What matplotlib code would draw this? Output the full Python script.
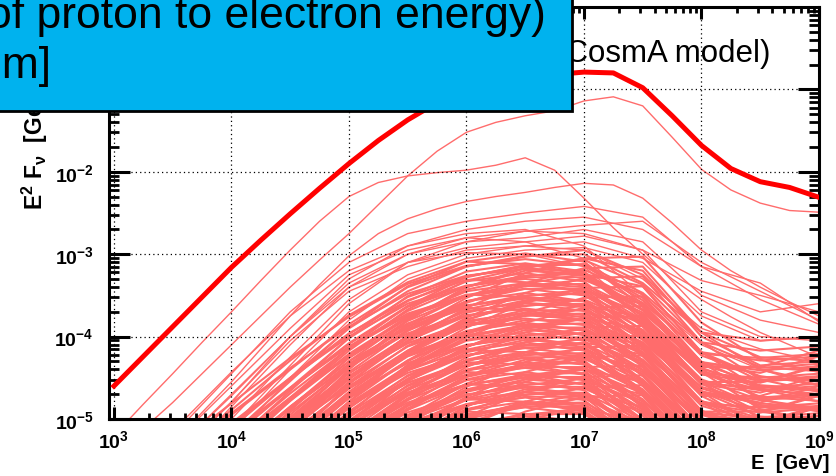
import numpy as np
import matplotlib
matplotlib.use('Agg')
import matplotlib.pyplot as plt
import matplotlib.ticker as mticker
from matplotlib.patches import Rectangle

plt.rcParams['font.family'] = 'Liberation Sans'
plt.rcParams['mathtext.fontset'] = 'custom'
plt.rcParams['mathtext.rm'] = 'Liberation Sans'
plt.rcParams['mathtext.bf'] = 'Liberation Sans:bold'
plt.rcParams['mathtext.it'] = 'Liberation Sans:italic'

# === Data (log10 values) ===
# quarter-decade energy grid: total spectrum and the three brightest sources
fine_logE = [3.0, 3.25, 3.5, 3.75, 4.0, 4.25, 4.5, 4.75, 5.0, 5.25, 5.5, 5.75,
             6.0, 6.25, 6.5, 6.75, 7.0, 7.25, 7.5, 7.75, 8.0, 8.25, 8.5, 8.75, 9.0]
total_logF = [-4.60, -4.24, -3.88, -3.52, -3.16, -2.83, -2.51, -2.20, -1.90, -1.62,
              -1.37, -1.16, -1.00, -0.90, -0.85, -0.82, -0.79, -0.80, -0.98, -1.32,
              -1.68, -1.96, -2.12, -2.19, -2.31]
top_sources = [
    [-5.45, -5.12, -4.80, -4.45, -4.10, -3.75, -3.40, -3.07, -2.75, -2.40, -2.05, -1.75,
     -1.52, -1.40, -1.32, -1.26, -1.14, -1.09, -1.20, -1.58, -1.97, -2.22, -2.38, -2.47, -2.49],
    [-5.20, -4.82, -4.45, -4.07, -3.70, -3.32, -2.95, -2.60, -2.30, -2.13, -2.05, -2.01,
     -1.98, -1.92, -1.83, -1.98, -2.32, -2.68, -3.00, -3.30, -3.55, -3.76, -3.95, -4.10, -4.25],
    [-6.00, -5.65, -5.30, -4.92, -4.55, -4.15, -3.75, -3.37, -3.02, -2.75, -2.57, -2.45,
     -2.36, -2.30, -2.25, -2.19, -2.14, -2.16, -2.32, -2.62, -2.95, -3.20, -3.40, -3.58, -3.75],
]

# half-decade energy grid: all other sources
src_logE = [3.0, 3.5, 4.0, 4.5, 5.0, 5.5, 6.0, 6.5, 7.0, 7.5, 8.0, 8.5, 9.0]

bright_sources = [
    [-6.50, -5.80, -5.10, -4.35, -3.60, -3.10, -2.85, -2.72, -2.65, -2.60, -3.10, -3.45, -3.80],
    [-5.90, -5.20, -4.45, -3.70, -3.10, -2.75, -2.60, -2.50, -2.42, -2.55, -3.15, -3.55, -3.85],
    [-6.20, -5.50, -4.80, -4.00, -3.30, -2.90, -2.70, -2.60, -2.55, -2.70, -3.15, -3.35, -3.82],
    [-6.30, -5.60, -4.85, -4.10, -3.40, -3.00, -2.80, -2.72, -2.75, -2.95, -3.32, -3.50, -3.70],
    [-5.85, -5.15, -4.43, -3.75, -3.20, -2.90, -2.75, -2.70, -2.90, -3.50, -4.10, -4.40, -4.60],
    [-6.10, -5.40, -4.70, -4.00, -3.35, -3.00, -2.85, -2.80, -2.70, -2.85, -3.50, -3.80, -3.95],
    [-6.00, -5.30, -4.60, -3.90, -3.25, -2.95, -2.80, -2.85, -3.05, -3.60, -4.30, -4.60, -4.70],
    [-6.40, -5.70, -5.00, -4.25, -3.55, -3.10, -2.92, -2.85, -2.78, -2.95, -3.70, -4.00, -4.05],
    [-6.20, -5.50, -4.79, -4.05, -3.45, -3.15, -2.95, -2.90, -2.95, -3.30, -3.90, -4.15, -4.30],
    [-6.60, -5.90, -5.15, -4.40, -3.70, -3.25, -3.00, -2.90, -2.85, -3.05, -3.45, -3.70, -3.60],
    [-6.10, -5.40, -4.72, -4.00, -3.40, -3.10, -2.98, -3.00, -3.15, -3.75, -4.35, -4.55, -4.50],
    [-6.80, -6.00, -5.25, -4.50, -3.80, -3.30, -3.05, -2.95, -2.92, -3.10, -3.75, -4.05, -4.00],
]

bulk_sources = [
    [-6.65, -6.05, -5.45, -4.85, -4.30, -3.80, -3.40, -3.17, -3.05, -3.20, -4.00, -4.35, -4.30],
    [-6.09, -5.49, -4.89, -4.29, -3.74, -3.34, -3.09, -3.12, -3.24, -3.79, -4.39, -4.59, -4.64],
    [-6.43, -5.83, -5.23, -4.63, -4.08, -3.63, -3.28, -3.13, -3.13, -3.53, -4.23, -4.48, -4.58],
    [-6.57, -5.97, -5.37, -4.77, -4.17, -3.67, -3.32, -3.17, -3.22, -3.67, -4.37, -4.37, -4.17],
    [-7.20, -6.50, -5.80, -5.10, -4.40, -3.80, -3.40, -3.20, -3.25, -3.75, -4.45, -4.65, -4.70],
    [-6.84, -6.24, -5.64, -5.04, -4.49, -3.99, -3.59, -3.36, -3.24, -3.39, -4.19, -4.54, -4.49],
    [-6.58, -5.98, -5.38, -4.78, -4.23, -3.78, -3.43, -3.28, -3.28, -3.68, -4.38, -4.63, -4.73],
    [-6.31, -5.71, -5.11, -4.51, -3.96, -3.56, -3.31, -3.34, -3.46, -4.01, -4.61, -4.81, -4.86],
    [-6.75, -6.15, -5.55, -4.95, -4.35, -3.85, -3.50, -3.35, -3.40, -3.85, -4.55, -4.55, -4.35],
    [-7.38, -6.68, -5.98, -5.28, -4.58, -3.98, -3.58, -3.38, -3.43, -3.93, -4.63, -4.83, -4.88],
    [-6.72, -6.12, -5.52, -4.92, -4.37, -3.92, -3.57, -3.42, -3.42, -3.82, -4.52, -4.77, -4.87],
    [-7.05, -6.45, -5.85, -5.25, -4.70, -4.20, -3.80, -3.57, -3.45, -3.60, -4.40, -4.75, -4.70],
    [-6.49, -5.89, -5.29, -4.69, -4.14, -3.74, -3.49, -3.52, -3.64, -4.19, -4.79, -4.99, -5.04],
    [-6.92, -6.32, -5.72, -5.12, -4.52, -4.02, -3.67, -3.52, -3.57, -4.02, -4.72, -4.72, -4.52],
    [-6.86, -6.26, -5.66, -5.06, -4.51, -4.06, -3.71, -3.56, -3.56, -3.96, -4.66, -4.91, -5.01],
    [-7.59, -6.89, -6.19, -5.49, -4.79, -4.19, -3.79, -3.59, -3.64, -4.14, -4.84, -5.04, -5.09],
    [-7.22, -6.62, -6.02, -5.42, -4.87, -4.37, -3.97, -3.74, -3.62, -3.77, -4.57, -4.92, -4.87],
    [-6.65, -6.05, -5.45, -4.85, -4.30, -3.90, -3.65, -3.68, -3.80, -4.35, -4.95, -5.15, -5.20],
    [-6.98, -6.38, -5.78, -5.18, -4.63, -4.18, -3.83, -3.68, -3.68, -4.08, -4.78, -5.03, -5.13],
    [-7.11, -6.51, -5.91, -5.31, -4.71, -4.21, -3.86, -3.71, -3.76, -4.21, -4.91, -4.91, -4.71],
    [-7.74, -7.04, -6.34, -5.64, -4.94, -4.34, -3.94, -3.74, -3.79, -4.29, -4.99, -5.19, -5.24],
    [-7.37, -6.77, -6.17, -5.57, -5.02, -4.52, -4.12, -3.89, -3.77, -3.92, -4.72, -5.07, -5.02],
    [-7.10, -6.50, -5.90, -5.30, -4.75, -4.30, -3.95, -3.80, -3.80, -4.20, -4.90, -5.15, -5.25],
    [-6.83, -6.23, -5.63, -5.03, -4.48, -4.08, -3.83, -3.86, -3.98, -4.53, -5.13, -5.33, -5.38],
    [-7.26, -6.66, -6.06, -5.46, -4.86, -4.36, -4.01, -3.86, -3.91, -4.36, -5.06, -5.06, -4.86],
    [-7.19, -6.59, -5.99, -5.39, -4.84, -4.39, -4.04, -3.89, -3.89, -4.29, -4.99, -5.24, -5.34],
    [-7.92, -7.22, -6.52, -5.82, -5.12, -4.52, -4.12, -3.92, -3.97, -4.47, -5.17, -5.37, -5.42],
    [-7.55, -6.95, -6.35, -5.75, -5.20, -4.70, -4.30, -4.07, -3.95, -4.10, -4.90, -5.25, -5.20],
    [-6.98, -6.38, -5.78, -5.18, -4.63, -4.23, -3.98, -4.01, -4.13, -4.68, -5.28, -5.48, -5.53],
    [-7.31, -6.71, -6.11, -5.51, -4.96, -4.51, -4.16, -4.01, -4.01, -4.41, -5.11, -5.36, -5.46],
    [-7.44, -6.84, -6.24, -5.64, -5.04, -4.54, -4.19, -4.04, -4.09, -4.54, -5.24, -5.24, -5.04],
    [-7.67, -7.07, -6.47, -5.87, -5.32, -4.82, -4.42, -4.19, -4.07, -4.22, -5.02, -5.37, -5.32],
    [-8.10, -7.40, -6.70, -6.00, -5.30, -4.70, -4.30, -4.10, -4.15, -4.65, -5.35, -5.55, -5.60],
    [-7.43, -6.83, -6.23, -5.63, -5.08, -4.63, -4.28, -4.13, -4.13, -4.53, -5.23, -5.48, -5.58],
    [-7.16, -6.56, -5.96, -5.36, -4.81, -4.41, -4.16, -4.19, -4.31, -4.86, -5.46, -5.66, -5.71],
    [-7.59, -6.99, -6.39, -5.79, -5.19, -4.69, -4.34, -4.19, -4.24, -4.69, -5.39, -5.39, -5.19],
    [-7.82, -7.22, -6.62, -6.02, -5.47, -4.97, -4.57, -4.34, -4.22, -4.37, -5.17, -5.52, -5.47],
    [-7.55, -6.95, -6.35, -5.75, -5.20, -4.75, -4.40, -4.25, -4.25, -4.65, -5.35, -5.60, -5.70],
    [-8.28, -7.58, -6.88, -6.18, -5.48, -4.88, -4.48, -4.28, -4.33, -4.83, -5.53, -5.73, -5.78],
    [-7.31, -6.71, -6.11, -5.51, -4.96, -4.56, -4.31, -4.34, -4.46, -5.01, -5.61, -5.81, -5.86],
    [-7.74, -7.14, -6.54, -5.94, -5.34, -4.84, -4.49, -4.34, -4.39, -4.84, -5.54, -5.54, -5.34],
    [-7.67, -7.07, -6.47, -5.87, -5.32, -4.87, -4.52, -4.37, -4.37, -4.77, -5.47, -5.72, -5.82],
    [-8.00, -7.40, -6.80, -6.20, -5.65, -5.15, -4.75, -4.52, -4.40, -4.55, -5.35, -5.70, -5.65],
    [-7.43, -6.83, -6.23, -5.63, -5.08, -4.68, -4.43, -4.46, -4.58, -5.13, -5.73, -5.93, -5.98],
    [-8.46, -7.76, -7.06, -6.36, -5.66, -5.06, -4.66, -4.46, -4.51, -5.01, -5.71, -5.91, -5.96],
    [-7.79, -7.19, -6.59, -5.99, -5.44, -4.99, -4.64, -4.49, -4.49, -4.89, -5.59, -5.84, -5.94],
    [-7.92, -7.32, -6.72, -6.12, -5.52, -5.02, -4.67, -4.52, -4.57, -5.02, -5.72, -5.72, -5.52],
    [-8.15, -7.55, -6.95, -6.35, -5.80, -5.30, -4.90, -4.67, -4.55, -4.70, -5.50, -5.85, -5.80],
    [-7.58, -6.98, -6.38, -5.78, -5.23, -4.83, -4.58, -4.61, -4.73, -5.28, -5.88, -6.08, -6.13],
    [-7.91, -7.31, -6.71, -6.11, -5.56, -5.11, -4.76, -4.61, -4.61, -5.01, -5.71, -5.96, -6.06],
    [-8.64, -7.94, -7.24, -6.54, -5.84, -5.24, -4.84, -4.64, -4.69, -5.19, -5.89, -6.09, -6.14],
    [-8.07, -7.47, -6.87, -6.27, -5.67, -5.17, -4.82, -4.67, -4.72, -5.17, -5.87, -5.87, -5.67],
    [-8.30, -7.70, -7.10, -6.50, -5.95, -5.45, -5.05, -4.82, -4.70, -4.85, -5.65, -6.00, -5.95],
    [-8.03, -7.43, -6.83, -6.23, -5.68, -5.23, -4.88, -4.73, -4.73, -5.13, -5.83, -6.08, -6.18],
    [-7.76, -7.16, -6.56, -5.96, -5.41, -5.01, -4.76, -4.79, -4.91, -5.46, -6.06, -6.26, -6.31],
    [-8.79, -8.09, -7.39, -6.69, -5.99, -5.39, -4.99, -4.79, -4.84, -5.34, -6.04, -6.24, -6.29],
    [-8.22, -7.62, -7.02, -6.42, -5.82, -5.32, -4.97, -4.82, -4.87, -5.32, -6.02, -6.02, -5.82],
    [-8.15, -7.55, -6.95, -6.35, -5.80, -5.35, -5.00, -4.85, -4.85, -5.25, -5.95, -6.20, -6.30],
    [-8.48, -7.88, -7.28, -6.68, -6.13, -5.63, -5.23, -5.00, -4.88, -5.03, -5.83, -6.18, -6.13],
    [-7.91, -7.31, -6.71, -6.11, -5.56, -5.16, -4.91, -4.94, -5.06, -5.61, -6.21, -6.41, -6.46],
    [-8.24, -7.64, -7.04, -6.44, -5.89, -5.44, -5.09, -4.94, -4.94, -5.34, -6.04, -6.29, -6.39],
    [-8.37, -7.77, -7.17, -6.57, -5.97, -5.47, -5.12, -4.97, -5.02, -5.47, -6.17, -6.17, -5.97],
    # second population: flatter tops, later cut-offs
    [-6.05, -5.50, -4.95, -4.40, -3.85, -3.40, -3.15, -3.03, -2.95, -3.25, -3.95, -4.25, -4.30],
    [-6.49, -5.84, -5.19, -4.54, -3.89, -3.39, -3.09, -2.99, -3.09, -3.64, -4.34, -4.44, -4.24],
    [-6.83, -6.23, -5.63, -5.03, -4.43, -3.93, -3.53, -3.23, -3.05, -3.03, -3.83, -4.28, -4.43],
    [-6.17, -5.62, -5.07, -4.52, -3.97, -3.52, -3.27, -3.15, -3.07, -3.37, -4.07, -4.37, -4.42],
    [-6.61, -5.96, -5.31, -4.66, -4.01, -3.51, -3.21, -3.11, -3.21, -3.76, -4.46, -4.56, -4.36],
    [-6.95, -6.35, -5.75, -5.15, -4.55, -4.05, -3.65, -3.35, -3.17, -3.15, -3.95, -4.40, -4.55],
    [-6.29, -5.74, -5.19, -4.64, -4.09, -3.64, -3.39, -3.27, -3.19, -3.49, -4.19, -4.49, -4.54],
    [-6.73, -6.08, -5.43, -4.78, -4.13, -3.63, -3.33, -3.23, -3.33, -3.88, -4.58, -4.68, -4.48],
    [-7.07, -6.47, -5.87, -5.27, -4.67, -4.17, -3.77, -3.47, -3.29, -3.27, -4.07, -4.52, -4.67],
    [-6.41, -5.86, -5.31, -4.76, -4.21, -3.76, -3.51, -3.39, -3.31, -3.61, -4.31, -4.61, -4.66],
    [-6.85, -6.20, -5.55, -4.90, -4.25, -3.75, -3.45, -3.35, -3.45, -4.00, -4.70, -4.80, -4.60],
    [-7.19, -6.59, -5.99, -5.39, -4.79, -4.29, -3.89, -3.59, -3.41, -3.39, -4.19, -4.64, -4.79],
    [-6.53, -5.98, -5.43, -4.88, -4.33, -3.88, -3.63, -3.51, -3.43, -3.73, -4.43, -4.73, -4.78],
    [-6.97, -6.32, -5.67, -5.02, -4.37, -3.87, -3.57, -3.47, -3.57, -4.12, -4.82, -4.92, -4.72],
    [-7.31, -6.71, -6.11, -5.51, -4.91, -4.41, -4.01, -3.71, -3.53, -3.51, -4.31, -4.76, -4.91],
    [-6.65, -6.10, -5.55, -5.00, -4.45, -4.00, -3.75, -3.63, -3.55, -3.85, -4.55, -4.85, -4.90],
    [-7.09, -6.44, -5.79, -5.14, -4.49, -3.99, -3.69, -3.59, -3.69, -4.24, -4.94, -5.04, -4.84],
    [-7.43, -6.83, -6.23, -5.63, -5.03, -4.53, -4.13, -3.83, -3.65, -3.63, -4.43, -4.88, -5.03],
    [-6.77, -6.22, -5.67, -5.12, -4.57, -4.12, -3.87, -3.75, -3.67, -3.97, -4.67, -4.97, -5.02],
    [-7.21, -6.56, -5.91, -5.26, -4.61, -4.11, -3.81, -3.71, -3.81, -4.36, -5.06, -5.16, -4.96],
    [-7.55, -6.95, -6.35, -5.75, -5.15, -4.65, -4.25, -3.95, -3.77, -3.75, -4.55, -5.00, -5.15],
    [-6.89, -6.34, -5.79, -5.24, -4.69, -4.24, -3.99, -3.87, -3.79, -4.09, -4.79, -5.09, -5.14],
    [-7.33, -6.68, -6.03, -5.38, -4.73, -4.23, -3.93, -3.83, -3.93, -4.48, -5.18, -5.28, -5.08],
    [-7.67, -7.07, -6.47, -5.87, -5.27, -4.77, -4.37, -4.07, -3.89, -3.87, -4.67, -5.12, -5.27],
    [-7.01, -6.46, -5.91, -5.36, -4.81, -4.36, -4.11, -3.99, -3.91, -4.21, -4.91, -5.21, -5.26],
    [-7.45, -6.80, -6.15, -5.50, -4.85, -4.35, -4.05, -3.95, -4.05, -4.60, -5.30, -5.40, -5.20],
    [-7.79, -7.19, -6.59, -5.99, -5.39, -4.89, -4.49, -4.19, -4.01, -3.99, -4.79, -5.24, -5.39],
    [-7.13, -6.58, -6.03, -5.48, -4.93, -4.48, -4.23, -4.11, -4.03, -4.33, -5.03, -5.33, -5.38],
    [-7.57, -6.92, -6.27, -5.62, -4.97, -4.47, -4.17, -4.07, -4.17, -4.72, -5.42, -5.52, -5.32],
    [-7.91, -7.31, -6.71, -6.11, -5.51, -5.01, -4.61, -4.31, -4.13, -4.11, -4.91, -5.36, -5.51],
    [-7.25, -6.70, -6.15, -5.60, -5.05, -4.60, -4.35, -4.23, -4.15, -4.45, -5.15, -5.45, -5.50],
    [-7.69, -7.04, -6.39, -5.74, -5.09, -4.59, -4.29, -4.19, -4.29, -4.84, -5.54, -5.64, -5.44],
    [-8.03, -7.43, -6.83, -6.23, -5.63, -5.13, -4.73, -4.43, -4.25, -4.23, -5.03, -5.48, -5.63],
    [-7.37, -6.82, -6.27, -5.72, -5.17, -4.72, -4.47, -4.35, -4.27, -4.57, -5.27, -5.57, -5.62],
    [-7.81, -7.16, -6.51, -5.86, -5.21, -4.71, -4.41, -4.31, -4.41, -4.96, -5.66, -5.76, -5.56],
    [-8.15, -7.55, -6.95, -6.35, -5.75, -5.25, -4.85, -4.55, -4.37, -4.35, -5.15, -5.60, -5.75],
    [-7.49, -6.94, -6.39, -5.84, -5.29, -4.84, -4.59, -4.47, -4.39, -4.69, -5.39, -5.69, -5.74],
    [-7.93, -7.28, -6.63, -5.98, -5.33, -4.83, -4.53, -4.43, -4.53, -5.08, -5.78, -5.88, -5.68],
    [-8.27, -7.67, -7.07, -6.47, -5.87, -5.37, -4.97, -4.67, -4.49, -4.47, -5.27, -5.72, -5.87],
    [-7.61, -7.06, -6.51, -5.96, -5.41, -4.96, -4.71, -4.59, -4.51, -4.81, -5.51, -5.81, -5.86],
    [-8.05, -7.40, -6.75, -6.10, -5.45, -4.95, -4.65, -4.55, -4.65, -5.20, -5.90, -6.00, -5.80],
    [-8.39, -7.79, -7.19, -6.59, -5.99, -5.49, -5.09, -4.79, -4.61, -4.59, -5.39, -5.84, -5.99],
    [-7.73, -7.18, -6.63, -6.08, -5.53, -5.08, -4.83, -4.71, -4.63, -4.93, -5.63, -5.93, -5.98],
    [-8.17, -7.52, -6.87, -6.22, -5.57, -5.07, -4.77, -4.67, -4.77, -5.32, -6.02, -6.12, -5.92],
    [-8.51, -7.91, -7.31, -6.71, -6.11, -5.61, -5.21, -4.91, -4.73, -4.71, -5.51, -5.96, -6.11],
    [-7.85, -7.30, -6.75, -6.20, -5.65, -5.20, -4.95, -4.83, -4.75, -5.05, -5.75, -6.05, -6.10],
    [-8.29, -7.64, -6.99, -6.34, -5.69, -5.19, -4.89, -4.79, -4.89, -5.44, -6.14, -6.24, -6.04],
    [-7.97, -7.42, -6.87, -6.32, -5.77, -5.32, -5.07, -4.95, -4.87, -5.17, -5.87, -6.17, -6.22],
    # third population: shallow cut-offs that stay bright up to 1e9 GeV
    [-6.30, -5.70, -5.10, -4.50, -3.90, -3.45, -3.15, -3.02, -3.00, -3.35, -3.95, -4.05, -4.00],
    [-5.86, -5.36, -4.81, -4.26, -3.76, -3.36, -3.14, -3.06, -3.14, -3.56, -4.21, -4.26, -4.21],
    [-6.42, -5.82, -5.22, -4.62, -4.02, -3.57, -3.27, -3.14, -3.12, -3.47, -4.07, -4.17, -4.12],
    [-5.98, -5.48, -4.93, -4.38, -3.88, -3.48, -3.26, -3.18, -3.26, -3.68, -4.33, -4.38, -4.33],
    [-6.54, -5.94, -5.34, -4.74, -4.14, -3.69, -3.39, -3.26, -3.24, -3.59, -4.19, -4.29, -4.24],
    [-6.10, -5.60, -5.05, -4.50, -4.00, -3.60, -3.38, -3.30, -3.38, -3.80, -4.45, -4.50, -4.45],
    [-6.66, -6.06, -5.46, -4.86, -4.26, -3.81, -3.51, -3.38, -3.36, -3.71, -4.31, -4.41, -4.36],
    [-6.22, -5.72, -5.17, -4.62, -4.12, -3.72, -3.50, -3.42, -3.50, -3.92, -4.57, -4.62, -4.57],
    [-6.78, -6.18, -5.58, -4.98, -4.38, -3.93, -3.63, -3.50, -3.48, -3.83, -4.43, -4.53, -4.48],
    [-6.34, -5.84, -5.29, -4.74, -4.24, -3.84, -3.62, -3.54, -3.62, -4.04, -4.69, -4.74, -4.69],
    [-6.90, -6.30, -5.70, -5.10, -4.50, -4.05, -3.75, -3.62, -3.60, -3.95, -4.55, -4.65, -4.60],
    [-6.46, -5.96, -5.41, -4.86, -4.36, -3.96, -3.74, -3.66, -3.74, -4.16, -4.81, -4.86, -4.81],
    [-7.02, -6.42, -5.82, -5.22, -4.62, -4.17, -3.87, -3.74, -3.72, -4.07, -4.67, -4.77, -4.72],
    [-6.58, -6.08, -5.53, -4.98, -4.48, -4.08, -3.86, -3.78, -3.86, -4.28, -4.93, -4.98, -4.93],
    [-7.14, -6.54, -5.94, -5.34, -4.74, -4.29, -3.99, -3.86, -3.84, -4.19, -4.79, -4.89, -4.84],
    [-6.70, -6.20, -5.65, -5.10, -4.60, -4.20, -3.98, -3.90, -3.98, -4.40, -5.05, -5.10, -5.05],
    [-7.26, -6.66, -6.06, -5.46, -4.86, -4.41, -4.11, -3.98, -3.96, -4.31, -4.91, -5.01, -4.96],
    [-6.82, -6.32, -5.77, -5.22, -4.72, -4.32, -4.10, -4.02, -4.10, -4.52, -5.17, -5.22, -5.17],
    [-7.38, -6.78, -6.18, -5.58, -4.98, -4.53, -4.23, -4.10, -4.08, -4.43, -5.03, -5.13, -5.08],
    [-6.94, -6.44, -5.89, -5.34, -4.84, -4.44, -4.22, -4.14, -4.22, -4.64, -5.29, -5.34, -5.29],
    [-7.50, -6.90, -6.30, -5.70, -5.10, -4.65, -4.35, -4.22, -4.20, -4.55, -5.15, -5.25, -5.20],
    [-7.06, -6.56, -6.01, -5.46, -4.96, -4.56, -4.34, -4.26, -4.34, -4.76, -5.41, -5.46, -5.41],
    [-7.62, -7.02, -6.42, -5.82, -5.22, -4.77, -4.47, -4.34, -4.32, -4.67, -5.27, -5.37, -5.32],
    [-7.18, -6.68, -6.13, -5.58, -5.08, -4.68, -4.46, -4.38, -4.46, -4.88, -5.53, -5.58, -5.53],
    [-7.74, -7.14, -6.54, -5.94, -5.34, -4.89, -4.59, -4.46, -4.44, -4.79, -5.39, -5.49, -5.44],
    [-7.30, -6.80, -6.25, -5.70, -5.20, -4.80, -4.58, -4.50, -4.58, -5.00, -5.65, -5.70, -5.65],
    [-7.86, -7.26, -6.66, -6.06, -5.46, -5.01, -4.71, -4.58, -4.56, -4.91, -5.51, -5.61, -5.56],
    [-7.42, -6.92, -6.37, -5.82, -5.32, -4.92, -4.70, -4.62, -4.70, -5.12, -5.77, -5.82, -5.77],
    [-7.98, -7.38, -6.78, -6.18, -5.58, -5.13, -4.83, -4.70, -4.68, -5.03, -5.63, -5.73, -5.68],
    [-7.54, -7.04, -6.49, -5.94, -5.44, -5.04, -4.82, -4.74, -4.82, -5.24, -5.89, -5.94, -5.89],
    [-8.10, -7.50, -6.90, -6.30, -5.70, -5.25, -4.95, -4.82, -4.80, -5.15, -5.75, -5.85, -5.80],
    [-7.66, -7.16, -6.61, -6.06, -5.56, -5.16, -4.94, -4.86, -4.94, -5.36, -6.01, -6.06, -6.01],
    [-8.22, -7.62, -7.02, -6.42, -5.82, -5.37, -5.07, -4.94, -4.92, -5.27, -5.87, -5.97, -5.92],
]

decades_x = [3, 4, 5, 6, 7, 8, 9]
decades_y = [-5, -4, -3, -2, -1]

# === Figure ===
W, H = 837, 477
fig = plt.figure(figsize=(W / 100, H / 100), dpi=100)
ax = fig.add_axes([109 / W, 57 / H, 710 / W, 412 / H])

line_col = '#ff6c6c'
E_src = 10.0 ** np.array(src_logE)
for row in bulk_sources:
    ax.plot(E_src, 10.0 ** np.array(row), color=line_col, lw=1.5, zorder=1)
for row in bright_sources:
    ax.plot(E_src, 10.0 ** np.array(row), color=line_col, lw=1.0, zorder=1)
E_fine = 10.0 ** np.array(fine_logE)
for row in top_sources:
    ax.plot(E_fine, 10.0 ** np.array(row), color=line_col, lw=1.0, zorder=1)

ax.plot(E_fine, 10.0 ** np.array(total_logF), color='#ff0000', lw=3.6, zorder=3,
        solid_joinstyle='round')

ax.set_xscale('log')
ax.set_yscale('log')
ax.set_xlim(10 ** 2.958, 1e9)
ax.set_ylim(1e-5, 1.0)

ax.xaxis.set_major_locator(mticker.FixedLocator([10.0 ** d for d in decades_x]))
ax.yaxis.set_major_locator(mticker.FixedLocator([10.0 ** d for d in decades_y]))
ax.xaxis.set_minor_locator(mticker.LogLocator(base=10, subs=np.arange(2, 10), numticks=20))
ax.yaxis.set_minor_locator(mticker.LogLocator(base=10, subs=np.arange(2, 10), numticks=20))


def decade_label(v, pos):
    return r'$\mathbf{10^{%d}}$' % int(round(np.log10(v)))


ax.xaxis.set_major_formatter(mticker.FuncFormatter(decade_label))
ax.yaxis.set_major_formatter(mticker.FuncFormatter(decade_label))
ax.xaxis.set_minor_formatter(mticker.NullFormatter())
ax.yaxis.set_minor_formatter(mticker.NullFormatter())

ax.tick_params(which='both', direction='in', top=True, right=True, colors='black')
ax.tick_params(axis='x', which='major', length=8.6, width=2.2, pad=7, labelsize=14)
ax.tick_params(axis='x', which='minor', length=4.3, width=2.0)
ax.tick_params(axis='y', which='major', length=15, width=2.2, pad=11, labelsize=14)
ax.tick_params(axis='y', which='minor', length=7.5, width=2.0)
for s in ax.spines.values():
    s.set_linewidth(2.2)

ax.grid(which='major', color='black', linestyle=(0, (1, 2.5)), linewidth=0.9, zorder=2)
ax.set_axisbelow(False)

# === Titles ===
fig.text(771 / W, 1 - 62 / H, 'Neutrino fluxes (CosmA model)', ha='right', va='baseline',
         fontsize=22.5, zorder=5)
fig.text(830 / W, 1 - 469 / H, 'E  [GeV]', ha='right', va='baseline',
         fontsize=14.5, fontweight='bold')
fig.text(35 / W, 1 - 210 / H, r'$\mathbf{E^{2}\ F_{\nu}\ \ [GeV\ cm^{-2}\ s^{-1}]}$',
         rotation=90, ha='center', va='bottom', fontsize=16.5)

# === Annotation box ===
fig.add_artist(Rectangle((-10 / W, 1 - 112 / H), 582 / W, 130 / H,
                         transform=fig.transFigure, facecolor='#00b2ee',
                         edgecolor='black', linewidth=2.0, zorder=10, clip_on=False))
fig.text(-13 / W, 1 - 28 / H, 'of proton to electron energy)', ha='left', va='baseline',
         fontsize=32, zorder=11)
fig.text(-23 / W, 1 - 78 / H, 'um]', ha='left', va='baseline', fontsize=32, zorder=11)

fig.savefig('out.png', dpi=100)
